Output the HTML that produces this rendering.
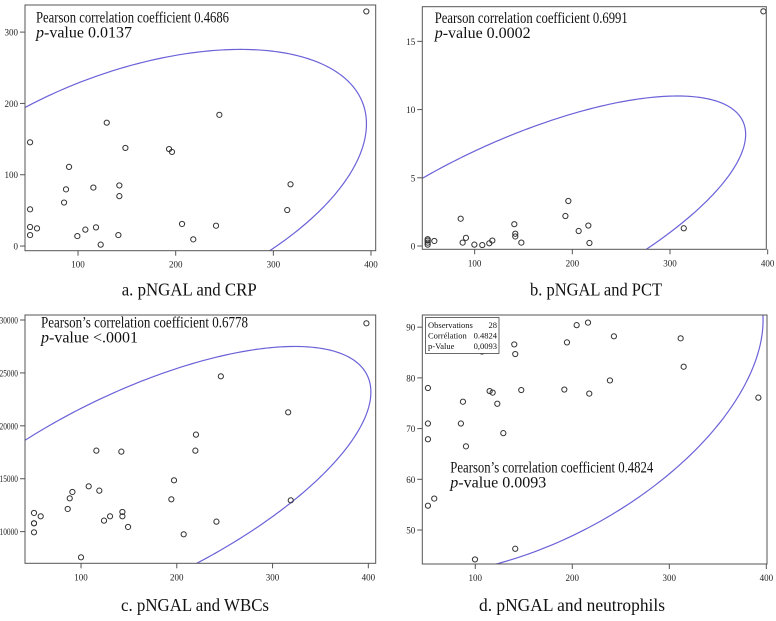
<!DOCTYPE html>
<html><head><meta charset="utf-8">
<style>
html,body{margin:0;padding:0;background:#fff;}
svg{display:block;font-family:"Liberation Serif",serif;}
</style></head>
<body>
<svg id="chart" width="776" height="621" viewBox="0 0 776 621" xmlns="http://www.w3.org/2000/svg"></svg>
<script>
// ---- data (x = pNGAL) ----
const crpX = [395.2,244.7,129.4,50.9,148.5,193.2,196.2,90.8,317.6,142.3,115.7,87.7,142.3,85.7,50.9,314.2,206.5,241.3,50.9,58,118.4,107.5,99.3,50.9,141.3,218,123.2];
const crpY = [329,184,173,145.5,137.6,136,132,111,86.6,85,82,79.5,70,61,51.5,50.5,31,28.5,26.7,24.8,26.2,23,14,15.4,15.4,9.4,2];
const pctX = [395.6,195.9,192.9,85.7,140.6,216.4,314.1,206.5,141.6,141.6,91.1,51.9,51.9,51.9,51.9,58.7,87.7,118.1,115,147.8,217.5,99.7,107.8];
const pctY = [17.2,3.3,2.2,2.0,1.6,1.5,1.3,1.1,0.9,0.7,0.6,0.5,0.4,0.25,0.1,0.37,0.25,0.4,0.2,0.25,0.22,0.1,0.07];
const wbcX = [398,246,316.3,220,219.4,116,142.1,197.1,108,119.1,91,88.2,194.3,319,86.1,50.9,143.2,143.2,57.9,130.3,124,241.4,50.9,50.9,149.1,50.9,207.2,100];
const wbcY = [29685,24677,21276,19165,17654,17654,17559,14850,14283,13874,13748,13150,13055,12961,12142,11764,11858,11449,11449,11449,11039,10945,10787,10787,10441,9937,9748,7575];
const neuX = [51.2,51.2,51.2,51.2,57.7,87.3,85.2,90.4,99.7,114.8,117.9,122.7,128.9,140.2,141.2,141.2,147.4,191.8,194.5,204.5,216.2,217.5,238.8,242.9,311.7,314.8,391.8,106.9];
const neuY = [78.0,71.0,67.9,54.8,56.2,75.3,71.0,66.5,44.2,77.4,77.1,74.9,69.1,86.6,84.7,46.3,77.6,77.7,87.0,90.4,90.9,76.9,79.5,88.2,87.8,82.2,76.1,85.2];
const xTicks = [100,200,300,400];
const crpTicks = [0,100,200,300];
const pctTicks = [0,5,10,15];
const wbcTicks = [10000,15000,20000,25000,30000];
const neuTicks = [50,60,70,80,90];
const insetLabels = ["Observations","Corrélation","p-Value"];
const insetValues = ["28","0.4824","0,0093"];

const NS = "http://www.w3.org/2000/svg";
const svg = document.getElementById("chart");
function mk(tag, attrs, parent){
  const e = document.createElementNS(NS, tag);
  for (const k in attrs) e.setAttribute(k, attrs[k]);
  (parent||svg).appendChild(e);
  return e;
}

function panel(cfg){
  const g = mk("g", {});
  
  
  const [L,T,R,B] = cfg.box;
  const sx = v => L + (v - cfg.xd[0]) / (cfg.xd[1]-cfg.xd[0]) * (R-L);
  const sy = v => B - (v - cfg.yd[0]) / (cfg.yd[1]-cfg.yd[0]) * (B-T);
  const clipId = cfg.name + "-clip";
  const cp = mk("clipPath", {id: clipId}, g);
  mk("rect", {x:L, y:T, width:R-L, height:B-T}, cp);

  // ellipse from data (95% prediction ellipse)
  const xs = cfg.x, ys = cfg.y, n = xs.length;
  const mx = xs.reduce((a,b)=>a+b,0)/n, my = ys.reduce((a,b)=>a+b,0)/n;
  let sxx=0, syy=0, sxy=0;
  for (let i=0;i<n;i++){ sxx+=(xs[i]-mx)**2; syy+=(ys[i]-my)**2; sxy+=(xs[i]-mx)*(ys[i]-my); }
  sxx/=(n-1); syy/=(n-1); sxy/=(n-1);
  const r = Math.sqrt(7.25) * (cfg.rs || 1);
  const a11 = Math.sqrt(sxx), a21 = sxy/a11, a22 = Math.sqrt(Math.max(syy - a21*a21, 1e-12));
  let d = "";
  for (let k=0;k<=360;k++){
    const t = k/360*2*Math.PI, c = Math.cos(t)*r, s = Math.sin(t)*r;
    const ex = mx + a11*c, ey = my + a21*c + a22*s;
    d += (k?"L":"M") + sx(ex).toFixed(2) + " " + sy(ey).toFixed(2);
  }
  const el = mk("path", {d:d, fill:"none", stroke:"#6b62d8", "stroke-width":1.2, "clip-path":"url(#"+clipId+")"}, g);
  
  

  for (let i=0;i<n;i++){
    const p = mk("circle", {cx:sx(xs[i]), cy:sy(ys[i]), r:2.6, fill:"none", stroke:"#333", "stroke-width":1}, g);
    
    
  }

  const fr = mk("rect", {x:L, y:T, width:R-L, height:B-T, fill:"none", stroke:"#555", "stroke-width":1}, g);
  
  

  xTicks.forEach(v=>{
    const x = sx(v);
    mk("line", {x1:x, x2:x, y1:B, y2:B+5, stroke:"#555"}, g);
    const t = mk("text", {x:x, y:B+17, "font-size":9, "text-anchor":"middle", fill:"#222"}, g);
    t.textContent = v;
    
    
  });
  cfg.yt.forEach(v=>{
    const y = sy(v);
    mk("line", {x1:L-5, x2:L, y1:y, y2:y, stroke:"#555"}, g);
    const s = String(v);
    const attrs = {x:L-7, y:y+3.5, "font-size":9, "text-anchor":"end", fill:"#222"};
    if (s.length > 3) { attrs.textLength = s.length*3.7; attrs.lengthAdjust = "spacingAndGlyphs"; }
    const t = mk("text", attrs, g);
    t.textContent = s;
    
    
  });

  const a1 = mk("text", {x:cfg.ann[0], y:cfg.ann[1], "font-size":16, fill:"#111", textLength:cfg.ann[2], lengthAdjust:"spacingAndGlyphs"}, g);
  a1.textContent = cfg.line1;
  
  
  const a2 = mk("text", {x:cfg.ann[0], y:cfg.ann[1]+15, "font-size":16, fill:"#111"}, g);
  a2.innerHTML = '<tspan font-style="italic">p</tspan>-value ' + cfg.pval;
  
  

  const cap = mk("text", {x:cfg.cap[0], y:cfg.cap[1], "font-size":18, fill:"#111", textLength:cfg.cap[2], lengthAdjust:"spacingAndGlyphs"}, g);
  cap.textContent = cfg.caption;
  
  
  return {g, sx, sy};
}

panel({name:"panel-crp", box:[25,5,375.7,250.7], xd:[45.7,404.8], yd:[-6.5,338], x:crpX, y:crpY, yt:crpTicks, rs:1.0,
  ann:[36,22.7,193], line1:"Pearson correlation coefficient 0.4686", pval:"0.0137",
  cap:[121.7,295.7,135], caption:"a. pNGAL and CRP"});
panel({name:"panel-pct", box:[422.3,6.7,766.3,249.3], xd:[46.4,398.6], yd:[-0.24,17.54], x:pctX, y:pctY, yt:pctTicks, rs:1.0,
  ann:[434.7,23,193], line1:"Pearson correlation coefficient 0.6991", pval:"0.0002",
  cap:[530,295.7,132], caption:"b. pNGAL and PCT"});
panel({name:"panel-wbc", box:[25,315,375.7,563.3], xd:[41.5,407.7], yd:[7008,30472], x:wbcX, y:wbcY, yt:wbcTicks, rs:1.02,
  ann:[41,327.3,207], line1:"Pearson\u2019s correlation coefficient 0.6778", pval:"<.0001",
  cap:[121,611,148], caption:"c. pNGAL and WBCs"});
panel({name:"panel-neutrophils", box:[422.3,315,767,564], xd:[45.4,400.7], yd:[43.3,92.4], x:neuX, y:neuY, yt:neuTicks, rs:1.02,
  ann:[450.3,472.7,203], line1:"Pearson\u2019s correlation coefficient 0.4824", pval:"0.0093",
  cap:[479,611,186], caption:"d. pNGAL and neutrophils"});

const ib = mk("rect", {x:425.5, y:317.5, width:73.5, height:36, fill:"#fff", stroke:"#444", "stroke-width":0.8});


insetLabels.forEach((lab,i)=>{
  const t = mk("text", {x:428, y:328+i*10.5, "font-size":8.5, fill:"#111"});
  t.textContent = lab;
  
  
  const v = mk("text", {x:497, y:328+i*10.5, "font-size":8.5, fill:"#111", "text-anchor":"end"});
  v.textContent = insetValues[i];
  
  
});
</script>
</body></html>
